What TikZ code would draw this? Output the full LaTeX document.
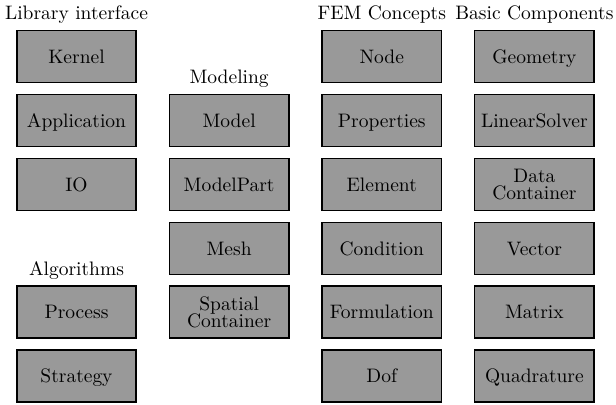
\documentclass[tikz,border=0pt]{standalone}
\usetikzlibrary{shapes,arrows}
\tikzstyle{block} = [rectangle, draw, thick, fill=black!40,
    minimum width=61.3pt, minimum height=26.7pt, align=center,
    text height=1.9ex, text depth=0.3ex,
    font=\fontsize{10}{9}\selectfont]
\tikzstyle{dblock} = [block, text height={}, text depth={}]
\tikzstyle{group} = [font=\fontsize{10}{12}\selectfont]
\begin{document}
\begin{tikzpicture}[x=0.513pt, y=-0.513pt, node distance=32.8pt]
    \useasboundingbox (0,0) rectangle (616,404);
    % Library interface and algorithms
    \node [block] (kernel) at (76.5,56.5) {Kernel};
    \node [block, below of=kernel] (application) {Application};
    \node [block, below of=application] (io) {IO};
    \node [block, below of=io, node distance=65.6pt] (process) {Process};
    \node [block, below of=process] (strategy) {Strategy};
    % Modeling
    \node [block, right of=application, node distance=78.3pt] (model) {Model};
    \node [block, below of=model] (modelpart) {ModelPart};
    \node [block, below of=modelpart] (mesh) {Mesh};
    \node [dblock, below of=mesh] (spatial) {Spatial\\Container};
    % FEM concepts
    \node [block, right of=kernel, node distance=156.6pt] (fnode) {Node};
    \node [block, below of=fnode] (properties) {Properties};
    \node [block, below of=properties] (element) {Element};
    \node [block, below of=element] (condition) {Condition};
    \node [block, below of=condition] (formulation) {Formulation};
    \node [block, below of=formulation] (dof) {Dof};
    % Basic components
    \node [block, right of=fnode, node distance=78.3pt] (geometry) {Geometry};
    \node [block, below of=geometry] (solver) {LinearSolver};
    \node [dblock, below of=solver] (data) {Data\\Container};
    \node [block, below of=data] (vector) {Vector};
    \node [block, below of=vector] (matrix) {Matrix};
    \node [block, below of=matrix] (quadrature) {Quadrature};
    % Group titles
    \node [group, above of=kernel, node distance=21.3pt] (libtitle) {Library interface};
    \node [group, above of=model, node distance=21.3pt] (modtitle) {Modeling};
    \node [group, above of=process, node distance=21.3pt] (algtitle) {Algorithms};
    \node [group, above of=fnode, node distance=21.3pt] (femtitle) {FEM Concepts};
    \node [group, above of=geometry, node distance=21.3pt] (bastitle) {Basic Components};
\end{tikzpicture}
\end{document}
